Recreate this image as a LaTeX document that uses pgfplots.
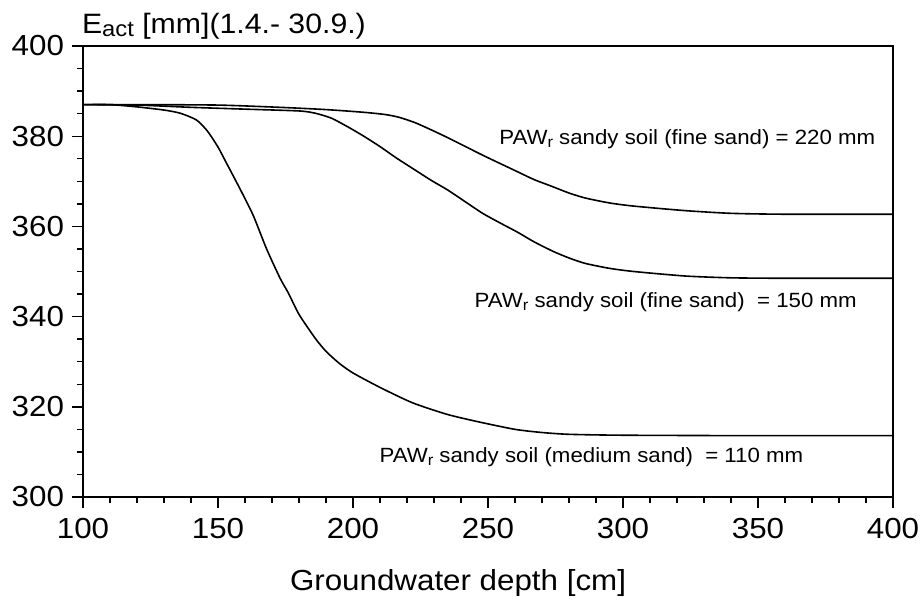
\documentclass[border=0pt]{standalone}
\usepackage{fontspec}
\setmainfont{Liberation Sans}[FakeStretch=1.08]
\usepackage{pgfplots}
\pgfplotsset{compat=1.18}
\begin{document}
\begin{tikzpicture}
\path[use as bounding box] (-41.5pt,-52pt) rectangle (419pt,248.5pt);
\begin{axis}[
  scale only axis,
  width=405pt, height=225.5pt,
  xmin=100, xmax=400, ymin=300, ymax=400,
  xtick={100,150,...,400},
  ytick={300,320,...,400},
  minor x tick num=4,
  minor y tick num=3,
  tick align=outside,
  xtick pos=left, ytick pos=left,
  major tick length=5.5pt,
  minor tick length=3pt,
  axis line style={line width=0.7pt},
  every tick/.style={black, line width=0.7pt},
  /pgf/number format/assume math mode=true,
  ticklabel style={font=\fontsize{14.5}{16}\selectfont},
  yticklabel style={xshift=-0.5pt},
  xticklabel style={yshift=-1.5pt},
  xlabel={Groundwater depth [cm]},
  xlabel style={font=\fontsize{14.5}{16}\selectfont, at={(rel axis cs:0.463,0)}, anchor=base, yshift=-46.5pt},
  ylabel={E\raisebox{-1.7pt}{\fontsize{11}{12}\selectfont act} [mm](1.4.- 30.9.)},
  ylabel style={font=\fontsize{14}{16}\selectfont, rotate=-90, at={(rel axis cs:0,1)}, anchor=base west, xshift=-4pt, yshift=6.4pt},
  clip=false,
]
% PAWr medium sand = 110 mm
\addplot[black, line width=0.8pt, smooth, tension=0.4] coordinates {
(100,387) (110,387) (120,386.5) (130,385.8) (136,385.1) (142,383.6) (146,381.2)
(150,377.6) (153,374.2) (158,368.5) (163,362.5) (168,355) (173,348.5) (176,345.3)
(180,340.5) (186,335.2) (190,332.3) (195,329.6) (200,327.5) (210,324.3) (222,320.9)
(235,318.3) (247,316.6) (260,315) (270,314.3) (280,313.9) (300,313.7) (350,313.6) (400,313.6)
};
% PAWr fine sand = 150 mm
\addplot[black, line width=0.8pt, smooth, tension=0.4] coordinates {
(100,387) (120,386.9) (140,386.4) (160,386) (180,385.6) (186,385.1) (192,384)
(198,382.1) (204,380) (210,377.7) (216,375.2) (223,372.5) (229,370.2) (235,368.1)
(242,365.3) (248,362.9) (255,360.6) (261,358.7) (267,356.6) (274,354.5) (280,353)
(286,351.8) (295,350.7) (304,350) (323,349) (340,348.6) (360,348.5) (400,348.5)
};
% PAWr fine sand = 220 mm
\addplot[black, line width=0.8pt, smooth, tension=0.4] coordinates {
(100,387) (120,387) (150,386.9) (173,386.4) (190,385.9) (204,385.3) (212,384.8)
(217,384.2) (223,383) (229,381.4) (235,379.7) (241,377.9) (248,375.8) (255,373.8)
(261,372.1) (267,370.4) (274,368.8) (280,367.4) (286,366.3) (295,365.2) (304,364.5)
(323,363.5) (340,362.9) (360,362.7) (400,362.7)
};
\node[font=\fontsize{10.3}{12}\selectfont] at (axis cs:323.8,379.3) {PAW\raisebox{-1.3pt}{\fontsize{7.7}{9}\selectfont r} sandy soil (fine sand) = 220 mm};
\node[font=\fontsize{10.3}{12}\selectfont] at (axis cs:315.8,343.1) {PAW\raisebox{-1.3pt}{\fontsize{7.7}{9}\selectfont r} sandy soil (fine sand)\ \ = 150 mm};
\node[font=\fontsize{10.3}{12}\selectfont] at (axis cs:288.3,308.8) {PAW\raisebox{-1.3pt}{\fontsize{7.7}{9}\selectfont r} sandy soil (medium sand)\ \ = 110 mm};
\end{axis}
\end{tikzpicture}
\end{document}
